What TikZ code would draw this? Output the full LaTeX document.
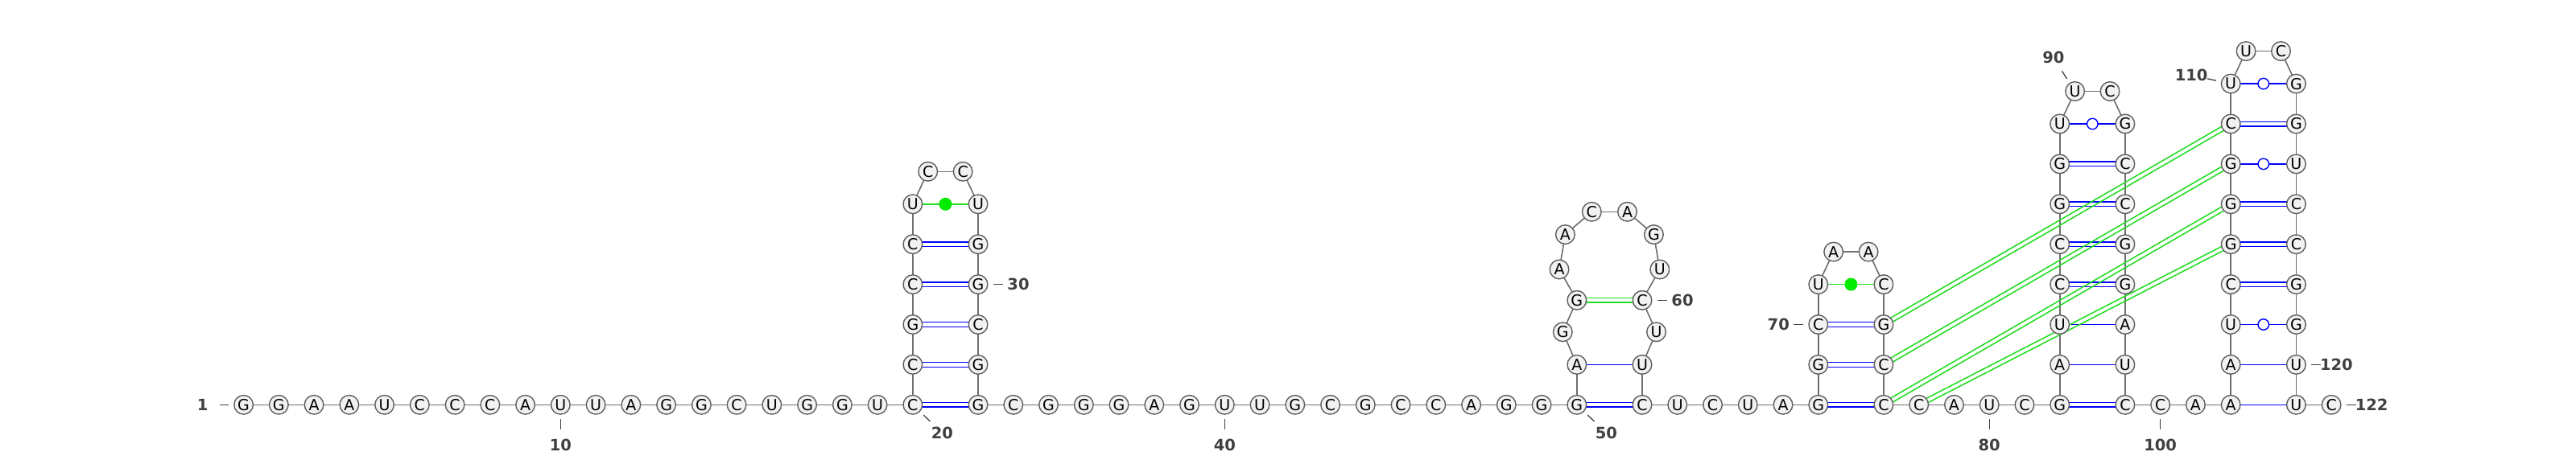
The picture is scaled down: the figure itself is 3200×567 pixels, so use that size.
\documentclass[tikz,border=0pt]{standalone}
\usepackage{fontspec}
\usetikzlibrary{calc}
\newfontfamily\ntfont{DejaVu Sans}
\newfontfamily\labfamily{DejaVu Sans}
\definecolor{ntline}{RGB}{95,95,95}
\definecolor{ntfill}{RGB}{242,242,242}
\definecolor{bbcol}{RGB}{110,110,110}
\definecolor{bpblue}{RGB}{0,0,255}
\definecolor{pkgreen}{RGB}{30,220,30}
\definecolor{dotgreen}{RGB}{0,235,0}
\definecolor{labcol}{RGB}{64,64,64}
\newcommand\rnadbl[3]{%
  \draw[#3] ($(n#1)!2.8pt!90:(n#2)$) -- ($(n#2)!2.8pt!-90:(n#1)$);%
  \draw[#3] ($(n#1)!2.8pt!-90:(n#2)$) -- ($(n#2)!2.8pt!90:(n#1)$);}
\tikzset{
  nt/.style={circle, draw=ntline, fill=ntfill, line width=1.4pt, minimum size=23.6pt, inner sep=0pt, font=\ntfont\fontsize{19}{19}\selectfont},
  bb/.style={draw=bbcol, line width=1.6pt},
  bp/.style={draw=bpblue, line width=1.4pt},
  pk/.style={draw=pkgreen, line width=1.5pt},
  gline/.style={draw=pkgreen, line width=1.4pt},
  gdot/.style={circle, fill=dotgreen, minimum size=16pt, inner sep=0pt},
  guc/.style={circle, draw=bpblue, fill=white, line width=1.4pt, minimum size=13.5pt, inner sep=0pt},
  tick/.style={draw=labcol, line width=1.3pt},
  lab/.style={text=labcol, inner sep=0pt, font=\labfamily\bfseries\fontsize{19.5}{20}\selectfont},
}
\begin{document}
\begin{tikzpicture}[x=1pt,y=-1pt]
\useasboundingbox (0,0) rectangle (3200,567);
% ---------- coordinates
\foreach \i in {1,...,19} \coordinate (n\i) at ({302.6+(\i-1)*43.75},503.3);
% stem 1
\foreach \k in {0,...,5}{%
  \pgfmathtruncatemacro\a{20+\k}\pgfmathtruncatemacro\b{33-\k}%
  \coordinate (n\a) at (1133.85,{503.3-\k*49.9});
  \coordinate (n\b) at (1215.05,{503.3-\k*49.9});}
\coordinate (n26) at (1152.75,213.3);
\coordinate (n27) at (1196.15,213.3);
\foreach \i in {34,...,49} \coordinate (n\i) at ({1215.05+(\i-33)*43.75},503.3);
% stem 2
\coordinate (n50) at (1958.8,503.3);
\coordinate (n51) at (1958.8,453.4);
\coordinate (n52) at (1941.3,412.8);
\coordinate (n53) at (1958.8,373.3);
\coordinate (n54) at (1937.0,335.0);
\coordinate (n55) at (1944.4,291.6);
\coordinate (n56) at (1977.3,263.3);
\coordinate (n57) at (2021.5,263.3);
\coordinate (n58) at (2054.4,291.6);
\coordinate (n59) at (2061.8,335.0);
\coordinate (n60) at (2040.0,373.3);
\coordinate (n61) at (2057.5,412.8);
\coordinate (n62) at (2040.0,453.4);
\coordinate (n63) at (2040.0,503.3);
\foreach \i in {64,...,67} \coordinate (n\i) at ({2040+(\i-63)*43.75},503.3);
% stem 3
\foreach \k in {0,...,3}{%
  \pgfmathtruncatemacro\a{68+\k}\pgfmathtruncatemacro\b{77-\k}%
  \coordinate (n\a) at (2258.75,{503.3-\k*49.9});
  \coordinate (n\b) at (2339.95,{503.3-\k*49.9});}
\coordinate (n72) at (2277.65,313.1);
\coordinate (n73) at (2321.05,313.1);
\foreach \i in {78,...,81} \coordinate (n\i) at ({2339.95+(\i-77)*43.75},503.3);
% stem 4
\foreach \k in {0,...,7}{%
  \pgfmathtruncatemacro\a{82+\k}\pgfmathtruncatemacro\b{99-\k}%
  \coordinate (n\a) at (2558.7,{503.3-\k*49.9});
  \coordinate (n\b) at (2639.9,{503.3-\k*49.9});}
\coordinate (n90) at (2577.6,113.5);
\coordinate (n91) at (2621.0,113.5);
\foreach \i in {100,101} \coordinate (n\i) at ({2639.9+(\i-99)*43.75},503.3);
% stem 5
\foreach \k in {0,...,8}{%
  \pgfmathtruncatemacro\a{102+\k}\pgfmathtruncatemacro\b{121-\k}%
  \coordinate (n\a) at (2771.15,{503.3-\k*49.9});
  \coordinate (n\b) at (2852.35,{503.3-\k*49.9});}
\coordinate (n111) at (2790.05,63.6);
\coordinate (n112) at (2833.45,63.6);
\coordinate (n122) at (2896.1,503.3);
% ---------- backbone
\foreach \i in {1,...,121}{\pgfmathtruncatemacro\j{\i+1}\draw[bb] (n\i) -- (n\j);}
% ---------- base pairs
\foreach \a/\b in {20/33,21/32,22/31,23/30,24/29,50/63,68/77,69/76,70/75,82/99,85/96,86/95,87/94,88/93,105/118,106/117,107/116,109/114}{\rnadbl{\a}{\b}{bp}}
\foreach \a/\b in {51/62,83/98,84/97,102/121,103/120}{\draw[bp] (n\a) -- (n\b);}
\foreach \a/\b in {89/92,104/119,108/115,110/113}{\draw[bp] (n\a) -- (n\b); \node[guc] (w\a) at ($(n\a)!0.5!(n\b)$) {};}
\foreach \a/\b in {25/28,71/74}{\draw[gline] (n\a) -- (n\b); \node[gdot] (g\a) at ($(n\a)!0.5!(n\b)$) {};}
\foreach \a/\b in {53/60,75/109,76/108,77/107,78/106}{\rnadbl{\a}{\b}{pk}}
% ---------- nucleotides
\foreach \i/\l in {1/G,2/G,3/A,4/A,5/U,6/C,7/C,8/C,9/A,10/U,11/U,12/A,13/G,14/G,15/C,16/U,17/G,18/G,19/U,20/C,
21/C,22/G,23/C,24/C,25/U,26/C,27/C,28/U,29/G,30/G,31/C,32/G,33/G,34/C,35/G,36/G,37/G,38/A,39/G,40/U,
41/U,42/G,43/C,44/G,45/C,46/C,47/A,48/G,49/G,50/G,51/A,52/G,53/G,54/A,55/A,56/C,57/A,58/G,59/U,60/C,
61/U,62/U,63/C,64/U,65/C,66/U,67/A,68/G,69/G,70/C,71/U,72/A,73/A,74/C,75/G,76/C,77/C,78/C,79/A,80/U,
81/C,82/G,83/A,84/U,85/C,86/C,87/G,88/G,89/U,90/U,91/C,92/G,93/C,94/C,95/G,96/G,97/A,98/U,99/C,100/C,
101/A,102/A,103/A,104/U,105/C,106/G,107/G,108/G,109/C,110/U,111/U,112/C,113/G,114/G,115/U,116/C,117/C,118/G,119/G,120/U,121/U,122/C}
  \node[nt] (b\i) at (n\i) {\l};
% ---------- numbering
\draw[tick] ($(n1)+(-30,0)$) -- ($(n1)+(-18.5,0)$); \node[lab] (t1) at ($(n1)+(-51,0)$) {1};
\foreach \i in {10,40,80,100}{\draw[tick] ($(n\i)+(0,17.5)$) -- ($(n\i)+(0,31)$); \node[lab] (t\i) at ($(n\i)+(0,50.5)$) {\i};}
\foreach \i in {20,50}{\draw[tick] ($(n\i)+(13.4,12.8)$) -- ($(n\i)+(21.7,20.7)$); \node[lab] (t\i) at ($(n\i)+(36.5,35)$) {\i};}
\foreach \i in {30,60,120,122}{\draw[tick] ($(n\i)+(18.7,0)$) -- ($(n\i)+(30.5,0)$); \node[lab] (t\i) at ($(n\i)+(50,0)$) {\i};}
\draw[tick] ($(n70)+(-31,0)$) -- ($(n70)+(-18.5,0)$); \node[lab] (t70) at ($(n70)+(-49.5,0)$) {70};
\draw[tick] ($(n90)+(-10,-15.5)$) -- ($(n90)+(-16.2,-25.2)$); \node[lab] (t90) at ($(n90)+(-26.8,-41.6)$) {90};
\draw[tick] ($(n110)+(-18.1,-3.9)$) -- ($(n110)+(-29.4,-6.3)$); \node[lab] (t110) at ($(n110)+(-49,-10.6)$) {110};
\end{tikzpicture}
\end{document}
